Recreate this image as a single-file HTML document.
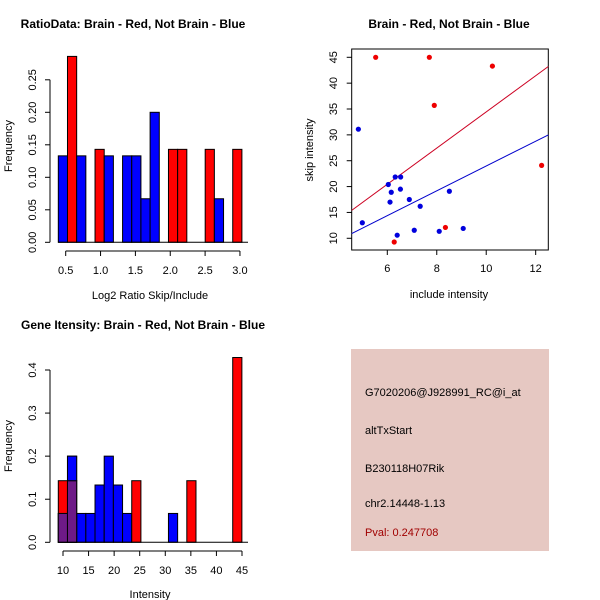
<!DOCTYPE html>
<html><head><meta charset="utf-8"><style>
body{margin:0;background:#fff;}
svg{display:block;font-family:"Liberation Sans",sans-serif;}
</style></head><body>
<svg id="s" width="600" height="600" viewBox="0 0 600 600" xmlns="http://www.w3.org/2000/svg">
<rect width="600" height="600" fill="#fff"/>
<g id="p1"></g>
<g id="p2"></g>
<g id="p3"></g>
<g id="p4">
<rect x="351" y="349" width="198" height="202" fill="#e6c8c2"/>
<text x="365" y="396" font-size="11" fill="#000">G7020206@J928991_RC@i_at</text>
<text x="365" y="434" font-size="11" fill="#000">altTxStart</text>
<text x="365" y="472" font-size="11" fill="#000">B230118H07Rik</text>
<text x="365" y="507" font-size="11" fill="#000">chr2.14448-1.13</text>
<text x="365" y="536" font-size="11" fill="#a00000">Pval: 0.247708</text>
</g>
</svg>
<script>
// ---- Panel 1 data ----
const ratioBinStart = 0.394, ratioBinWidth = 0.1317;
const ratioBins = [0,1,2,4,5,7,8,9,10,12,13,16,17,19];
const ratioHeights = [0.133,0.286,0.133,0.143,0.133,0.133,0.133,0.067,0.2,0.143,0.143,0.143,0.067,0.143];
const ratioGroups = ["blue","red","blue","red","blue","blue","blue","blue","blue","red","red","red","blue","red"];
const ratioXTicks = [0.5,1.0,1.5,2.0,2.5,3.0];
const ratioXLabels = ["0.5","1.0","1.5","2.0","2.5","3.0"];
const ratioYTicks = [0,0.05,0.10,0.15,0.20,0.25];
const ratioYLabels = ["0.00","0.05","0.10","0.15","0.20","0.25"];
// ---- Panel 2 data ----
const redX = [5.53,7.70,10.25,7.9,12.24,8.35,6.28];
const redY = [45,45,43.3,35.7,24.1,12.1,9.28];
const blueX = [4.83,4.99,6.04,6.32,6.54,6.16,6.11,6.53,6.89,7.33,8.51,6.40,7.09,8.10,9.07];
const blueY = [31.1,13.0,20.4,21.85,21.85,18.9,17.0,19.5,17.5,16.2,19.1,10.6,11.55,11.35,11.9];
const fitSlopes = [3.50,2.40];
const fitIntercepts = [-0.56,-0.03];
const scXTicks = [6,8,10,12];
const scYTicks = [10,15,20,25,30,35,40,45];
// ---- Panel 3 data ----
const intBinStart = 9.08, intBinWidth = 1.795;
const blueBins = [0,1,2,3,4,5,6,7,12];
const blueHeights = [0.067,0.2,0.067,0.067,0.133,0.2,0.133,0.067,0.067];
const redBins = [0,1,8,14,19];
const redHeights = [0.143,0.143,0.143,0.143,0.429];
const intXTicks = [10,15,20,25,30,35,40,45];
const intYTicks = [0,0.1,0.2,0.3,0.4];
const intYLabels = ["0.0","0.1","0.2","0.3","0.4"];

const NS="http://www.w3.org/2000/svg";
function mk(parent,tag,attrs,txt){const e=document.createElementNS(NS,tag);for(const k in attrs)e.setAttribute(k,attrs[k]);if(txt!==undefined)e.textContent=txt;parent.appendChild(e);return e;}
const COL={blue:"#0000ff",red:"#ff0000"};

// Panel 1
(function(){
const g=document.getElementById('p1');
const sx=v=>65.7+(v-0.5)*69.7, sy=v=>242.3-v*650;
ratioBins.forEach((b,i)=>{
 const x0=sx(ratioBinStart+b*ratioBinWidth), x1=sx(ratioBinStart+(b+1)*ratioBinWidth);
 const r=mk(g,'rect',{x:x0,y:sy(ratioHeights[i]),width:x1-x0,height:sy(0)-sy(ratioHeights[i]),fill:COL[ratioGroups[i]],stroke:"#000","stroke-width":1});
 
 
});
const base=mk(g,'line',{x1:58,y1:sy(0),x2:248,y2:sy(0),stroke:"#000"});

mk(g,'line',{x1:sx(0.5),y1:251,x2:sx(3),y2:251,stroke:"#000"});
ratioXTicks.forEach((t,i)=>{mk(g,'line',{x1:sx(t),y1:251,x2:sx(t),y2:256,stroke:"#000"});
 const l=mk(g,'text',{x:sx(t),y:274,"font-size":11,"text-anchor":"middle"},ratioXLabels[i]);
 });
mk(g,'line',{x1:50,y1:sy(0),x2:50,y2:sy(0.25),stroke:"#000"});
ratioYTicks.forEach((t,i)=>{mk(g,'line',{x1:45,y1:sy(t),x2:50,y2:sy(t),stroke:"#000"});
 const l=mk(g,'text',{x:0,y:0,"font-size":11,"text-anchor":"middle",transform:`translate(36,${sy(t)}) rotate(-90)`},ratioYLabels[i]);
 });
const t=mk(g,'text',{x:133,y:28,"font-size":12,"font-weight":"bold","text-anchor":"middle"},"RatioData: Brain - Red, Not Brain - Blue");

const xl=mk(g,'text',{x:150,y:299,"font-size":11,"text-anchor":"middle"},"Log2 Ratio Skip/Include");

const yl=mk(g,'text',{x:0,y:0,"font-size":11,"text-anchor":"middle",transform:"translate(12,146) rotate(-90)"},"Frequency");

})();

// Panel 2
(function(){
const g=document.getElementById('p2');
const sx=v=>387.3+(v-6)*24.73, sy=v=>57.3+(45-v)*5.171;
const L=351.7,R=548.3,T=49,B=250;
const box=mk(g,'rect',{x:L,y:T,width:R-L,height:B-T,fill:"none",stroke:"#000"});

const xmin=(L-387.3)/24.73+6, xmax=(R-387.3)/24.73+6;
const lineCols=["#cc0022","#0000cc"];
fitSlopes.forEach((s,i)=>{const ln=mk(g,'line',{x1:L,y1:sy(fitIntercepts[i]+s*xmin),x2:R,y2:sy(fitIntercepts[i]+s*xmax),stroke:lineCols[i],"stroke-width":1});
 });
redX.forEach((x,i)=>{const c=mk(g,'circle',{cx:sx(x),cy:sy(redY[i]),r:2.6,fill:"#ee0000"});
 });
blueX.forEach((x,i)=>{const c=mk(g,'circle',{cx:sx(x),cy:sy(blueY[i]),r:2.6,fill:"#0000dd"});
 });
scXTicks.forEach(t=>{mk(g,'line',{x1:sx(t),y1:B,x2:sx(t),y2:B+5,stroke:"#000"});
 const l=mk(g,'text',{x:sx(t),y:272,"font-size":11,"text-anchor":"middle"},String(t));
 });
scYTicks.forEach(t=>{mk(g,'line',{x1:L-5,y1:sy(t),x2:L,y2:sy(t),stroke:"#000"});
 const l=mk(g,'text',{x:0,y:0,"font-size":11,"text-anchor":"middle",transform:`translate(337,${sy(t)}) rotate(-90)`},String(t));
 });
const t=mk(g,'text',{x:449,y:28,"font-size":12,"font-weight":"bold","text-anchor":"middle"},"Brain - Red, Not Brain - Blue");

const xl=mk(g,'text',{x:449,y:298,"font-size":11,"text-anchor":"middle"},"include intensity");

const yl=mk(g,'text',{x:0,y:0,"font-size":11,"text-anchor":"middle",transform:"translate(313,150) rotate(-90)"},"skip intensity");

})();

// Panel 3
(function(){
const g=document.getElementById('p3');
const sx=v=>63+(v-10)*5.114, sy=v=>542.3-v*430.75;
const edge=k=>sx(intBinStart+k*intBinWidth);
blueBins.forEach((b,i)=>{const r=mk(g,'rect',{x:edge(b),y:sy(blueHeights[i]),width:edge(b+1)-edge(b),height:sy(0)-sy(blueHeights[i]),fill:"#0000ff",stroke:"#000"});
 });
redBins.forEach((b,i)=>{const r=mk(g,'rect',{x:edge(b),y:sy(redHeights[i]),width:edge(b+1)-edge(b),height:sy(0)-sy(redHeights[i]),fill:"#ff0000",stroke:"#000"});
 
 const j=blueBins.indexOf(b);
 if(j>=0){const h=Math.min(redHeights[i],blueHeights[j]);
  const o=mk(g,'rect',{x:edge(b),y:sy(h),width:edge(b+1)-edge(b),height:sy(0)-sy(h),fill:"#6e1a87",stroke:"#000"});
  
  if(blueHeights[j]>redHeights[i]){const r2=mk(g,'rect',{x:edge(b),y:sy(blueHeights[j]),width:edge(b+1)-edge(b),height:sy(h)-sy(blueHeights[j]),fill:"#0000ff",stroke:"#000"});
   }}
});
mk(g,'line',{x1:58,y1:sy(0),x2:248,y2:sy(0),stroke:"#000"});
mk(g,'line',{x1:sx(10),y1:551,x2:sx(45),y2:551,stroke:"#000"});
intXTicks.forEach(t=>{mk(g,'line',{x1:sx(t),y1:551,x2:sx(t),y2:556,stroke:"#000"});
 const l=mk(g,'text',{x:sx(t),y:574,"font-size":11,"text-anchor":"middle"},String(t));
 });
mk(g,'line',{x1:50,y1:sy(0),x2:50,y2:sy(0.4),stroke:"#000"});
intYTicks.forEach((t,i)=>{mk(g,'line',{x1:45,y1:sy(t),x2:50,y2:sy(t),stroke:"#000"});
 const l=mk(g,'text',{x:0,y:0,"font-size":11,"text-anchor":"middle",transform:`translate(36,${sy(t)}) rotate(-90)`},intYLabels[i]);
 });
const t=mk(g,'text',{x:143,y:329,"font-size":12,"font-weight":"bold","text-anchor":"middle"},"Gene Itensity: Brain - Red, Not Brain - Blue");

const xl=mk(g,'text',{x:150,y:598,"font-size":11,"text-anchor":"middle"},"Intensity");

const yl=mk(g,'text',{x:0,y:0,"font-size":11,"text-anchor":"middle",transform:"translate(12,446) rotate(-90)"},"Frequency");

})();
</script>
</body></html>
